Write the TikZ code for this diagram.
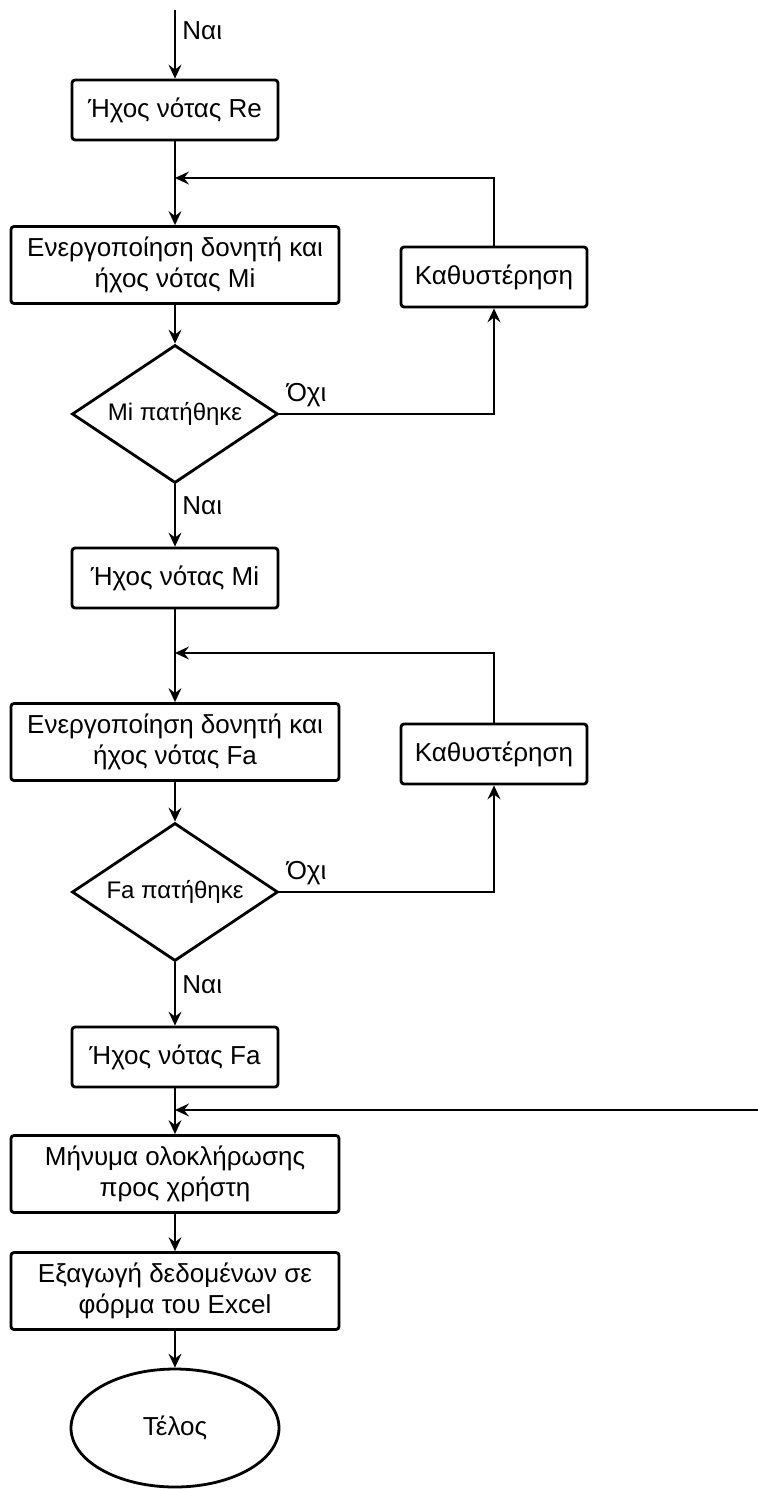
\documentclass[tikz,border=0pt]{standalone}
\usepackage{fontspec}
\setmainfont{Liberation Sans}
\usetikzlibrary{shapes.geometric, arrows.meta}

\begin{document}
\begin{tikzpicture}[node distance={15mm}, thick, >={Stealth[length=7pt, width=6.5pt, inset=2.5pt]},
    font=\fontsize{13}{15.5}\selectfont,
    main/.style = {draw, rectangle, line width=1.4pt, rounded corners=1.5pt, align=center, minimum width=103pt, minimum height=30pt},
    wide/.style = {main, minimum width=164pt, minimum height=38.5pt},
    cond/.style = {draw, diamond, shape aspect=1.5, line width=1.4pt, inner sep=0pt, minimum width=103pt, minimum height=69pt, font=\fontsize{12}{14}\selectfont},
    finish/.style = {draw, ellipse, line width=1.4pt, minimum width=104pt, minimum height=59pt}]
    \useasboundingbox (-87.5pt,55pt) rectangle (291.5pt,-689.5pt);
    \node[main] (1) at (0,0) {Ήχος νότας Re};
    \node[wide] (2) [below of=1, node distance=77.5pt] {Ενεργοποίηση δονητή και\\ ήχος νότας Mi};
    \node[cond] (3) [below of=2, node distance=74.5pt] {Mi πατήθηκε};
    \node[main] (4) [below of=3, node distance=82pt] {Ήχος νότας Mi};
    \node[wide] (5) [below of=4, node distance=82pt] {Ενεργοποίηση δονητή και\\ ήχος νότας Fa};
    \node[cond] (6) [below of=5, node distance=75pt] {Fa πατήθηκε};
    \node[main] (7) [below of=6, node distance=82.5pt] {Ήχος νότας Fa};
    \node[wide] (8) [below of=7, node distance=58.5pt] {Μήνυμα ολοκλήρωσης\\ προς χρήστη};
    \node[wide] (9) [below of=8, node distance=58.5pt] {Εξαγωγή δεδομένων σε\\ φόρμα του Excel};
    \node[finish] (10) [below of=9, node distance=68.5pt] {Τέλος};
    \node[main, minimum width=93pt] (11) [right of=2, node distance=159.5pt, yshift=-6pt] {Καθυστέρηση};
    \node[main, minimum width=93pt] (12) [right of=5, node distance=159.5pt, yshift=-6pt] {Καθυστέρηση};
    \coordinate[above of=1, node distance=50pt] (0);
    \coordinate[below of=1, node distance=34pt] (j1);
    \coordinate[below of=4, node distance=37.5pt] (j2);
    \coordinate[below of=7, node distance=26.5pt] (j3);
    \coordinate[right of=j3, node distance=291.5pt] (r);
    \draw[->] (0) -- node[right, pos=0.3] {Ναι} (1);
    \draw[->] (1) -- (2);
    \draw[->] (2) -- (3);
    \draw[->] (3) -- node[right, pos=0.35] {Ναι} (4);
    \draw[->] (3) -| node[above right, pos=0] {Όχι} (11);
    \draw[->] (11) |- (j1);
    \draw[->] (4) -- (5);
    \draw[->] (5) -- (6);
    \draw[->] (6) -- node[right, pos=0.35] {Ναι} (7);
    \draw[->] (6) -| node[above right, pos=0] {Όχι} (12);
    \draw[->] (12) |- (j2);
    \draw[->] (7) -- (8);
    \draw[->] (r) -- (j3);
    \draw[->] (8) -- (9);
    \draw[->] (9) -- (10);
\end{tikzpicture}
\end{document}
